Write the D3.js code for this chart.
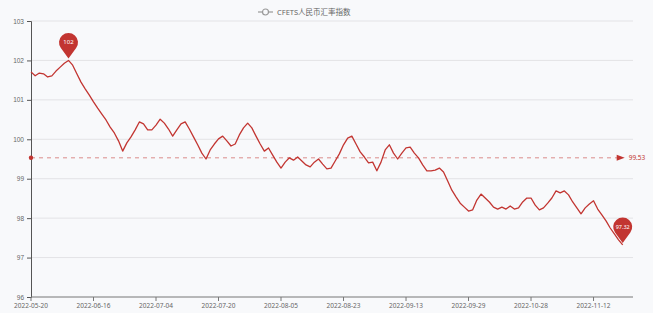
<!DOCTYPE html>
<html><head><meta charset="utf-8">
<script src="https://cdn.jsdelivr.net/npm/d3@7/dist/d3.min.js"></script>
<style>body{margin:0;background:#f8f9fb;}svg{display:block;font-family:"Noto Sans","Noto Sans CJK SC",sans-serif;}</style>
</head><body><svg id="c" width="653" height="313"></svg>
<script>
const seriesName = "CFETS人民币汇率指数";
const tickLabels = ["2022-05-20","2022-06-16","2022-07-04","2022-07-20","2022-08-05","2022-08-23","2022-09-13","2022-09-29","2022-10-28","2022-11-12"];
const tickEvery = 15;
const yTicks = [96,97,98,99,100,101,102,103];
const values = [101.71,101.61,101.68,101.66,101.58,101.61,101.73,101.83,101.93,102.00,
101.88,101.66,101.45,101.28,101.12,100.95,100.79,100.64,100.49,100.31,
100.16,99.96,99.70,99.91,100.06,100.24,100.44,100.39,100.24,100.24,
100.36,100.51,100.41,100.26,100.08,100.24,100.39,100.44,100.26,100.06,
99.86,99.65,99.50,99.73,99.88,100.01,100.08,99.96,99.83,99.88,
100.11,100.29,100.41,100.29,100.08,99.88,99.70,99.78,99.60,99.42,
99.27,99.42,99.53,99.47,99.55,99.45,99.35,99.30,99.42,99.50,
99.37,99.25,99.27,99.45,99.63,99.86,100.03,100.08,99.88,99.68,
99.55,99.40,99.42,99.20,99.42,99.73,99.86,99.65,99.50,99.65,
99.78,99.80,99.65,99.53,99.35,99.20,99.20,99.22,99.27,99.17,
98.94,98.71,98.54,98.38,98.28,98.18,98.21,98.46,98.61,98.51,
98.41,98.28,98.23,98.28,98.23,98.31,98.23,98.26,98.41,98.51,
98.51,98.33,98.21,98.26,98.38,98.51,98.69,98.64,98.69,98.59,
98.41,98.26,98.11,98.26,98.36,98.44,98.23,98.08,97.93,97.75,
97.60,97.45,97.32];
const avgValue = 99.53;

(function () {
const svg = d3.select("#c");
const gLeft = 31, gTop = 21, gBottom = 297, dataRight = 622.7, axisRight = 633;
const color = "#c23531";
const x = d3.scaleLinear().domain([0, values.length - 1]).range([gLeft, dataRight]);
const y = d3.scaleLinear().domain([96, 103]).range([gBottom, gTop]);

// split lines
svg.append("g").selectAll("line").data(yTicks.slice(1)).join("line")
  .attr("x1", gLeft).attr("x2", axisRight).attr("y1", d => y(d)).attr("y2", d => y(d))
  .attr("stroke", "#e3e3e6").attr("stroke-width", 1);

// y axis
const ya = svg.append("g").attr("transform", `translate(${gLeft},0)`)
  .call(d3.axisLeft(y).tickValues(yTicks).tickSize(4).tickPadding(3).tickFormat(d3.format("d")));
ya.select(".domain").attr("stroke", "#555");
ya.selectAll(".tick line").attr("stroke", "#555");
ya.selectAll("text").attr("fill", "#666").style("font-size", "6.5px");

// x axis
const tickIdx = tickLabels.map((d, i) => i * tickEvery);
const xa = svg.append("g").attr("transform", `translate(0,${gBottom})`);
xa.append("line").attr("x1", gLeft).attr("x2", axisRight).attr("stroke", "#777");
xa.selectAll("line.t").data(tickIdx).join("line").attr("class", "t").attr("x1", d => x(d)).attr("x2", d => x(d))
  .attr("y1", 0).attr("y2", 4).attr("stroke", "#777");
xa.selectAll("text").data(tickLabels).join("text")
  .attr("x", (d, i) => x(tickIdx[i])).attr("y", 11).attr("text-anchor", "middle")
  .attr("fill", "#666").style("font-size", "6.5px").text(d => d);

// average markline
const ay = y(avgValue);
svg.append("line").attr("x1", gLeft).attr("x2", dataRight - 5).attr("y1", ay).attr("y2", ay)
  .attr("stroke", color).attr("stroke-opacity", 0.55).attr("stroke-dasharray", "4,4");
svg.append("circle").attr("cx", gLeft).attr("cy", ay).attr("r", 2.2).attr("fill", color);
svg.append("path").attr("d", `M${dataRight - 6},${ay - 3}L${dataRight + 2},${ay}L${dataRight - 6},${ay + 3}Z`).attr("fill", color);
svg.append("text").attr("x", dataRight + 6).attr("y", ay + 2.3).attr("fill", color)
  .style("font-size", "6.5px").text(avgValue.toFixed(2));

// line
svg.append("path").datum(values)
  .attr("d", d3.line().x((d, i) => x(i)).y(d => y(d)))
  .attr("fill", "none").attr("stroke", color).attr("stroke-width", 1.3).attr("stroke-linejoin", "round");

// pins
function pin(i, label) {
  const px = x(i), py = y(values[i]);
  const r = 9.5, h = 16;
  const g = svg.append("g").attr("transform", `translate(${px},${py - 2})`);
  const a = Math.asin(r / h);
  const tx = r * Math.cos(a), ty = -h + r * Math.sin(a);
  g.append("path").attr("d", `M0,0L${-tx},${ty}A${r},${r} 0 1 1 ${tx},${ty}Z`).attr("fill", color);
  g.append("text").attr("x", 0).attr("y", -h + 2).attr("text-anchor", "middle")
    .attr("fill", "#fff").style("font-size", label.length > 3 ? "5.5px" : "6px").text(label);
}
const maxI = d3.maxIndex(values), minI = d3.minIndex(values);
pin(maxI, String(+values[maxI].toFixed(2)));
pin(minI, String(+values[minI].toFixed(2)));

// legend
const lg = svg.append("g").attr("transform", "translate(258,12)");
lg.append("line").attr("x1", 0).attr("x2", 15).attr("stroke", "#999").attr("stroke-width", 1.2);
lg.append("circle").attr("cx", 7.5).attr("r", 3).attr("fill", "#f8f9fb").attr("stroke", "#999").attr("stroke-width", 1.2);
lg.append("text").attr("x", 19).attr("y", 3).attr("fill", "#666").style("font-size", "7.5px").text(seriesName);
})();
</script></body></html>
